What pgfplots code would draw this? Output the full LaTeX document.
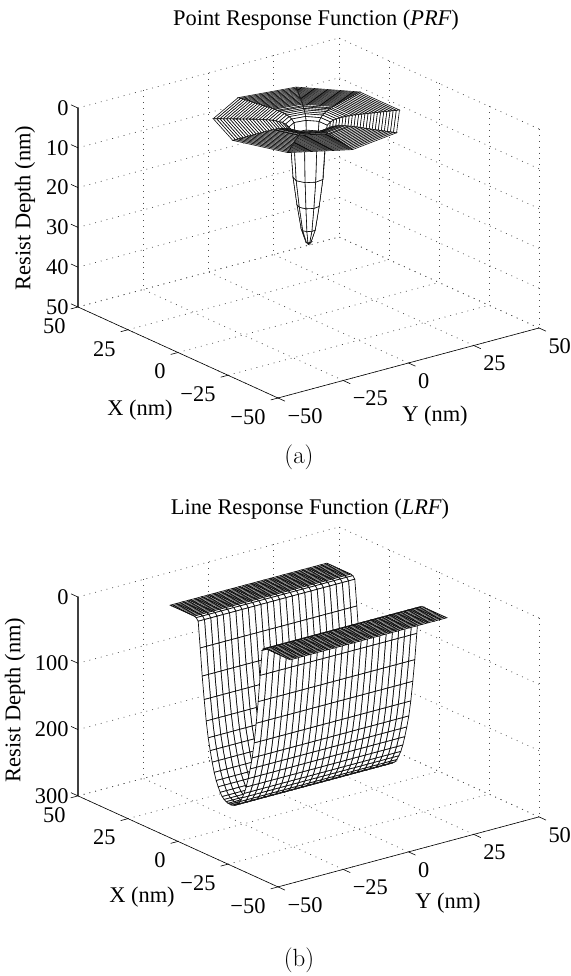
\documentclass[border=0pt]{standalone}
\usepackage{fontspec}
\usepackage{pgfplots}
\usepackage{pgfplotstable}
\pgfplotsset{compat=1.18}
\newfontfamily\tm{Liberation Serif}
\newcommand{\sz}{\tm\fontsize{22.5}{26}\selectfont}
% PRF radial profile: r, sector edge c, depth z
\pgfplotstableread[row sep=\\]{
r c z\\
29 0 0.4\\ 29 1 0.4\\ 28 0 0.4\\ 28 1 0.4\\ 27 0 0.4\\ 27 1 0.4\\ 26 0 0.4\\ 26 1 0.4\\
25 0 0.4\\ 25 1 0.4\\ 24 0 0.4\\ 24 1 0.4\\ 23 0 0.4\\ 23 1 0.4\\ 22 0 0.4\\ 22 1 0.4\\
21 0 0.4\\ 21 1 0.4\\ 20 0 0.4\\ 20 1 0.4\\ 19 0 0.4\\ 19 1 0.4\\ 18 0 0.4\\ 18 1 0.4\\
17 0 0.4\\ 17 1 0.4\\ 16 0 0.4\\ 16 1 0.4\\ 15 0 0.4\\ 15 1 0.4\\ 14 0 0.4\\ 14 1 0.4\\
13 0 0.5\\ 13 1 0.5\\ 12 0 0.5\\ 12 1 0.5\\ 11 0 0.6\\ 11 1 0.6\\ 10 0 0.7\\ 10 1 0.7\\
9 0 0.9\\ 9 1 0.9\\ 8 0 1.1\\ 8 1 1.1\\ 7 0 1.5\\ 7 1 1.5\\ 6 0 2.2\\ 6 1 2.2\\
5.6 0 4.5\\ 5.6 1 4.5\\ 4.7 0 14.8\\ 4.7 1 14.8\\ 3.5 0 21.7\\ 3.5 1 21.7\\
2.2 0 27.8\\ 2.2 1 27.8\\ 0.8 0 31\\ 0.8 1 31\\ 0 0 31.5\\ 0 1 31.5\\
}\prf
% LRF cross-section: x, strip edge c, depth z
\pgfplotstableread[row sep=\\]{
x c z\\
30 0 6\\ 30 1 6\\ 29 0 6\\ 29 1 6\\ 28 0 6\\ 28 1 6\\ 27 0 6\\ 27 1 6\\ 26 0 6\\ 26 1 6\\
25 0 6\\ 25 1 6\\ 24 0 6\\ 24 1 6\\ 23 0 6\\ 23 1 6\\ 22 0 6\\ 22 1 6\\ 21 0 6\\ 21 1 6\\
20 0 6\\ 20 1 6\\ 19 0 6\\ 19 1 6\\ 18 0 6\\ 18 1 6\\ 17 0 7\\ 17 1 7\\ 16 0 11\\ 16 1 11\\
15 0 50\\ 15 1 50\\ 14 0 91\\ 14 1 91\\ 13 0 125\\ 13 1 125\\ 12 0 156\\ 12 1 156\\
11 0 180\\ 11 1 180\\ 10 0 198\\ 10 1 198\\ 9 0 214\\ 9 1 214\\ 8 0 228\\ 8 1 228\\
7 0 239\\ 7 1 239\\ 6 0 247\\ 6 1 247\\ 5 0 254\\ 5 1 254\\ 4 0 259\\ 4 1 259\\
3 0 262\\ 3 1 262\\ 2 0 264\\ 2 1 264\\ 1 0 265\\ 1 1 265\\ 0 0 265\\ 0 1 265\\
-1 0 265\\ -1 1 265\\ -2 0 264\\ -2 1 264\\ -3 0 262\\ -3 1 262\\ -4 0 259\\ -4 1 259\\
-5 0 254\\ -5 1 254\\ -6 0 247\\ -6 1 247\\ -7 0 239\\ -7 1 239\\ -8 0 228\\ -8 1 228\\
-9 0 214\\ -9 1 214\\ -10 0 198\\ -10 1 198\\ -11 0 180\\ -11 1 180\\ -12 0 156\\ -12 1 156\\
-13 0 125\\ -13 1 125\\ -14 0 91\\ -14 1 91\\ -15 0 50\\ -15 1 50\\ -16 0 11\\ -16 1 11\\
-17 0 7\\ -17 1 7\\ -18 0 6\\ -18 1 6\\ -19 0 6\\ -19 1 6\\ -20 0 6\\ -20 1 6\\
-21 0 6\\ -21 1 6\\ -22 0 6\\ -22 1 6\\ -23 0 6\\ -23 1 6\\ -24 0 6\\ -24 1 6\\
-25 0 6\\ -25 1 6\\ -26 0 6\\ -26 1 6\\ -27 0 6\\ -27 1 6\\ -28 0 6\\ -28 1 6\\
-29 0 6\\ -29 1 6\\ -30 0 6\\ -30 1 6\\
}\lrf
\pgfplotsset{
  rf/.style={
    anchor=origin, clip=false,
    x={(-2bp,0.91bp)}, y={(2.61bp,0.70bp)},
    xmin=-50,xmax=50,ymin=-50,ymax=50,
    xtick={-50,-25,0,25,50}, ytick={-50,-25,0,25,50},
    xticklabels={−50,−25,0,25,50}, yticklabels={−50,−25,0,25,50},
    grid=major, grid style={dash pattern=on 0.9bp off 5bp, black!70, line width=0.7pt},
    axis line style={draw=none},
    tick pos=lower,
    tick style={draw=none},
    label style={font=\sz},
    x tick label style={font=\sz, anchor=east, xshift=-9bp, yshift=-19bp},
    y tick label style={font=\sz, anchor=west, xshift=6bp, yshift=-18bp},
    z tick label style={font=\sz, anchor=east, xshift=-6bp},
    colormap={wh}{color=(white) color=(white)},
  },
  sf/.style={surf, shader=faceted, faceted color=black!95, z buffer=sort},
  tk/.style={black, line width=0.6pt, forget plot},
}
\begin{document}
\begin{tikzpicture}
\path[use as bounding box] (0,0) rectangle (571bp,976bp);
\begin{axis}[rf, at={(308.5bp,857.5bp)}, z={(0bp,-3.98bp)}, zmin=0, zmax=50,
  ztick={0,10,20,30,40,50}, zticklabels={0,10,20,30,40,50}]
\pgfplotsinvokeforeach{30,-10,70,310,110,270,150,230,190}{
  \addplot3[sf, line width=0.6pt, mesh/rows=30, mesh/cols=2] table[
    x expr={\thisrow{r}*cos(#1+40*\thisrow{c})},
    y expr={\thisrow{r}*sin(#1+40*\thisrow{c})}, z=z] {\prf};
}
\addplot3[tk] coordinates {(50,-50,50) (-50,-50,50) (-50,50,50)};
\addplot3[black!75, line width=1.1pt, forget plot] coordinates {(50,-50,0) (50,-50,50)};
\pgfplotsinvokeforeach{-50,-25,0,25,50}{
  \addplot3[tk] coordinates {(#1,-50,50) (#1,-52.8,50)};
  \addplot3[tk] coordinates {(-50,#1,50) (-53.5,#1,50)};
}
\pgfplotsinvokeforeach{0,10,20,30,40,50}{
  \addplot3[tk] coordinates {(50,-50,#1) (53.5,-50,#1)};
}
\end{axis}
\begin{axis}[rf, at={(308.5bp,368.5bp)}, z={(0bp,-0.663bp)}, zmin=0, zmax=300,
  ztick={0,100,200,300}, zticklabels={0,100,200,300}]
\pgfplotsinvokeforeach{27.6,25.2,22.8,20.4,18,15.6,13.2,10.8,8.4,6,3.6,1.2,-1.2,-3.6,-6,-8.4,-10.8,-13.2,-15.6,-18,-20.4,-22.8,-25.2,-27.6,-30}{
  \addplot3[sf, line width=0.7pt, mesh/rows=61, mesh/cols=2] table[
    x=x, y expr={#1+2.4*\thisrow{c}}, z=z] {\lrf};
}
\addplot3[tk] coordinates {(50,-50,300) (-50,-50,300) (-50,50,300)};
\addplot3[black!75, line width=1.1pt, forget plot] coordinates {(50,-50,0) (50,-50,300)};
\pgfplotsinvokeforeach{-50,-25,0,25,50}{
  \addplot3[tk] coordinates {(#1,-50,300) (#1,-52.8,300)};
  \addplot3[tk] coordinates {(-50,#1,300) (-53.5,#1,300)};
}
\pgfplotsinvokeforeach{0,100,200,300}{
  \addplot3[tk] coordinates {(50,-50,#1) (53.5,-50,#1)};
}
\end{axis}
\node[font=\sz] at (316bp,956bp) {Point Response Function ({\itshape PRF})};
\node[font=\sz] at (310bp,467bp) {Line Response Function ({\itshape LRF})};
\node[font=\sz] at (140bp,566bp) {X (nm)};
\node[font=\sz] at (435bp,560bp) {Y (nm)};
\node[font=\sz,rotate=90] at (25bp,768bp) {Resist Depth (nm)};
\node[font=\sz] at (142bp,79bp) {X (nm)};
\node[font=\sz] at (448bp,73bp) {Y (nm)};
\node[font=\sz,rotate=90] at (15bp,276bp) {Resist Depth (nm)};
\node[font=\fontsize{25}{30}\selectfont] at (299bp,519bp) {(a)};
\node[font=\fontsize{25}{30}\selectfont] at (299bp,16bp) {(b)};
\end{tikzpicture}
\end{document}
